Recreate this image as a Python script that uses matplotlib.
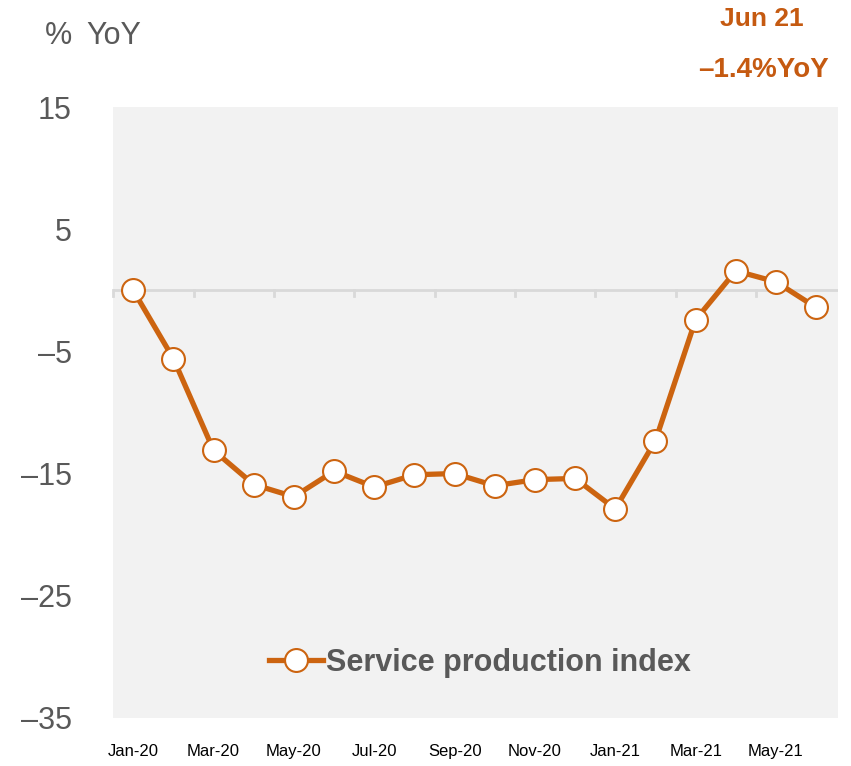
import matplotlib
matplotlib.use('Agg')
import matplotlib.pyplot as plt
import numpy as np

# data
months = ['Jan-20', 'Feb-20', 'Mar-20', 'Apr-20', 'May-20', 'Jun-20', 'Jul-20', 'Aug-20',
          'Sep-20', 'Oct-20', 'Nov-20', 'Dec-20', 'Jan-21', 'Feb-21', 'Mar-21', 'Apr-21',
          'May-21', 'Jun-21']
service_yoy = [0.0, -5.6, -13.1, -15.9, -16.9, -14.8, -16.1, -15.1, -15.0, -16.0, -15.5,
               -15.4, -17.9, -12.3, -2.4, 1.6, 0.7, -1.4]
y_ticks = [15, 5, -5, -15, -25, -35]

orange = '#CC6410'
text_orange = '#C55A11'
grey_text = '#595959'

plt.rcParams['font.family'] = ['Liberation Sans', 'DejaVu Sans']

fig = plt.figure(figsize=(8.51, 7.66), dpi=100)
ax = fig.add_axes([0.133, 0.063, 0.852, 0.797])
ax.set_facecolor('#F2F2F2')

x = np.arange(len(months))
ax.plot(x, service_yoy, color=orange, linewidth=3.8, marker='o', markersize=16.5,
        markerfacecolor='white', markeredgecolor=orange, markeredgewidth=1.5,
        label='Service production index', zorder=3)

ax.set_xlim(-0.5, 17.55)
ax.set_ylim(-35, 15)

# zero line with tick marks every second category boundary
ax.axhline(0, color='#D9D9D9', linewidth=2, zorder=1)
for b in np.arange(-0.5, 16, 2):
    ax.plot([b, b], [0, -0.45], color='#D9D9D9', linewidth=2, zorder=1, clip_on=False)

for s in ax.spines.values():
    s.set_visible(False)

ax.set_yticks(y_ticks)
ax.set_yticklabels([str(v).replace('-', '\u2013') for v in y_ticks])
ax.tick_params(axis='y', length=0, pad=30, labelsize=22, labelcolor=grey_text)

ax.set_xticks(x[::2])
ax.set_xticklabels(months[::2])
ax.tick_params(axis='x', length=0, pad=19, labelsize=12, labelcolor='black')

# unit label, the gap between % and YoY is a bit wider than a space
fig.text(0.053, 0.953, '%', fontsize=22, color=grey_text, ha='left', va='center')
fig.text(0.101, 0.953, 'YoY', fontsize=22, color=grey_text, ha='left', va='center')
fig.text(0.895, 0.975, 'Jun 21', fontsize=19, color=text_orange, fontweight='bold',
         ha='center', va='center')
fig.text(0.897, 0.908, '\u20131.4%YoY', fontsize=20, color=text_orange, fontweight='bold',
         ha='center', va='center')

leg = ax.legend(loc='center', bbox_to_anchor=(0.506, 0.09), frameon=False,
                handlelength=1.75, handletextpad=0.1,
                prop={'size': 22, 'weight': 'bold'}, labelcolor=grey_text)

fig.savefig('out.png', dpi=100)
